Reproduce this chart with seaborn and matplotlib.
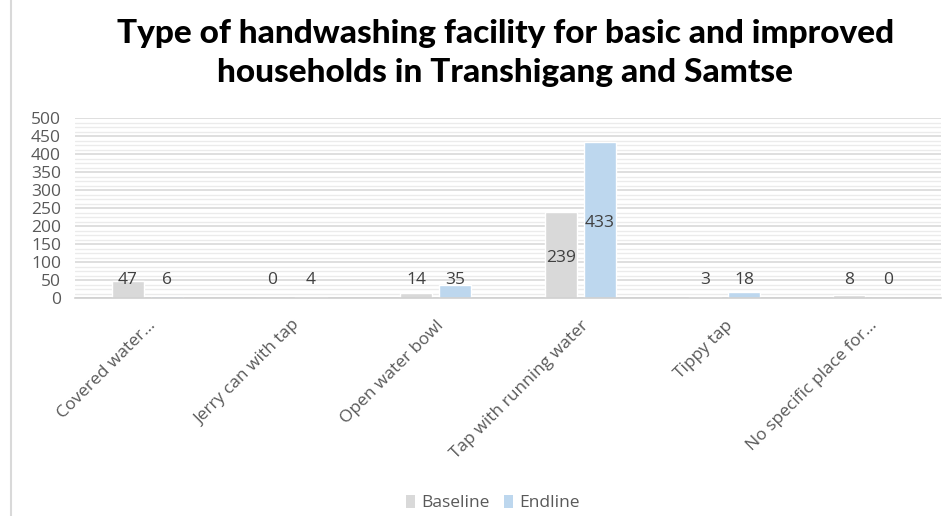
import matplotlib
matplotlib.use("Agg")
import matplotlib.pyplot as plt
from matplotlib.ticker import MultipleLocator
from matplotlib.lines import Line2D
from matplotlib.patches import Patch
import seaborn as sns
import pandas as pd

categories = ["Covered water...", "Jerry can with tap", "Open water bowl",
              "Tap with running water", "Tippy tap", "No specific place for..."]
baseline = [47, 0, 14, 239, 3, 8]
endline = [6, 4, 35, 433, 18, 0]
series = ["Baseline", "Endline"]
colors = ["#D9D9D9", "#BDD7EE"]
title = "Type of handwashing facility for basic and improved\nhouseholds in Transhigang and Samtse"

df = pd.DataFrame({
    "category": categories * 2,
    "value": baseline + endline,
    "series": [series[0]] * len(categories) + [series[1]] * len(categories),
})

sns.set_theme(style="white")
plt.rcParams["font.family"] = ["Open Sans", "DejaVu Sans"]

fig = plt.figure(figsize=(9.53, 5.16), dpi=100)
ax = fig.add_axes([75 / 953, 1 - 298 / 516, (941 - 75) / 953, 180 / 516])

sns.barplot(data=df, x="category", y="value", hue="series", order=categories,
            hue_order=series, palette=colors, width=0.54, gap=0.18,
            saturation=1, legend=False, ax=ax)

ax.set_ylim(0, 500)
ax.yaxis.set_major_locator(MultipleLocator(50))
ax.yaxis.set_minor_locator(MultipleLocator(12.5))
ax.grid(axis="y", which="major", color="#D9D9D9", lw=1.2)
ax.grid(axis="y", which="minor", color="#EBEBEB", lw=1.0)
ax.set_axisbelow(True)
for s in ["top", "right", "left"]:
    ax.spines[s].set_visible(False)
ax.spines["bottom"].set_color("#D0D0D0")
ax.spines["bottom"].set_linewidth(1.2)
ax.set_xlabel("")
ax.set_ylabel("")
ax.tick_params(axis="both", length=0, colors="#595959")
ax.tick_params(axis="y", labelsize=12.5, pad=10)
ax.tick_params(axis="x", labelsize=12.5, pad=14)
ax.set_xticks(range(len(categories)))
ax.set_xticklabels(categories, rotation=45, ha="right", va="top",
                   rotation_mode="anchor", color="#595959")

for cont in ax.containers:
    for bar in cont:
        h = bar.get_height()
        xc = bar.get_x() + bar.get_width() / 2
        y = h / 2 - 8 if h > 100 else 50
        ax.text(xc, y, f"{int(round(h))}", ha="center", va="center",
                fontsize=12.5, color="#404040")

fig.text(0.53, 1 - 19 / 516, title, ha="center", va="top", fontsize=24,
         fontweight="black", family=["Lato", "DejaVu Sans"], color="black",
         linespacing=1.42)

handles = [Patch(facecolor=c, edgecolor="none") for c in colors]
fig.legend(handles, series, loc="center", bbox_to_anchor=(0.517, 1 - 503 / 516),
           ncol=2, frameon=False, fontsize=12.5, handlelength=0.55,
           handleheight=0.8, handletextpad=0.35, columnspacing=0.8,
           labelcolor="#595959")

fig.add_artist(Line2D([11 / 953, 11 / 953], [0, 1], transform=fig.transFigure,
                      color="#D9D9D9", lw=1.5))

fig.savefig("out.png", dpi=100, facecolor="white")
